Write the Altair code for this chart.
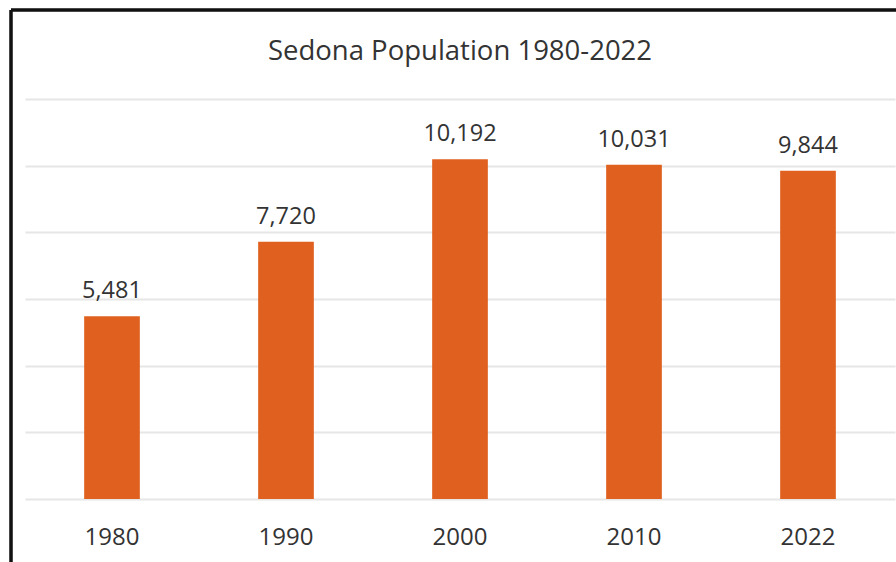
import altair as alt
import pandas as pd

years = ["1980", "1990", "2000", "2010", "2022"]
population = [5481, 7720, 10192, 10031, 9844]
y_ticks = [0, 2000, 4000, 6000, 8000, 10000, 12000]
title_text = ["Sedona Population 1980-2022"]

df = pd.DataFrame({"year": years, "pop": population})
df_title = pd.DataFrame({"t": title_text})

FONT = "Open Sans"
TXT = "#333333"

base = alt.Chart(df).encode(
    x=alt.X("year:N", sort=years,
            scale=alt.Scale(paddingInner=0.68, paddingOuter=0.34),
            axis=alt.Axis(title=None, labelAngle=0, domain=False, ticks=False,
                          labelFont=FONT, labelFontSize=24, labelColor=TXT,
                          labelBaseline="alphabetic", labelPadding=45, grid=False)),
)

bars = base.mark_bar(color="#E0601F").encode(
    y=alt.Y("pop:Q", scale=alt.Scale(domain=[0, 12000], nice=False),
            axis=alt.Axis(title=None, values=y_ticks, labels=False, ticks=False,
                          domain=False, grid=True, gridColor="#e6e6e6", gridWidth=2)),
)

labels = base.mark_text(dy=-18, baseline="alphabetic", font=FONT, fontSize=23.5, color=TXT).encode(
    y=alt.Y("pop:Q"),
    text=alt.Text("pop:Q", format=","),
)

title = alt.Chart(df_title).mark_text(baseline="alphabetic", align="center", font=FONT,
                                      fontSize=27.5, color=TXT).encode(
    x=alt.value(435), y=alt.value(-39), text="t:N"
)

border_top = alt.Chart(df).mark_rule(color="#111111", strokeWidth=2.5).encode(
    x=alt.value(-14), x2=alt.value(900), y=alt.value(-89)
)
border_left = alt.Chart(df).mark_rule(color="#111111", strokeWidth=2.5).encode(
    x=alt.value(-14), y=alt.value(-89), y2=alt.value(480)
)

chart = alt.layer(bars, labels, title, border_top, border_left).properties(
    width=870, height=400,
    autosize=alt.AutoSizeParams(type="none"),
    padding={"left": 25, "top": 99, "right": 1, "bottom": 63},
).configure(background="white", view=alt.ViewConfig(stroke="transparent", strokeWidth=0))

chart.save("out.html", embed_options={"renderer": "svg", "actions": False})
